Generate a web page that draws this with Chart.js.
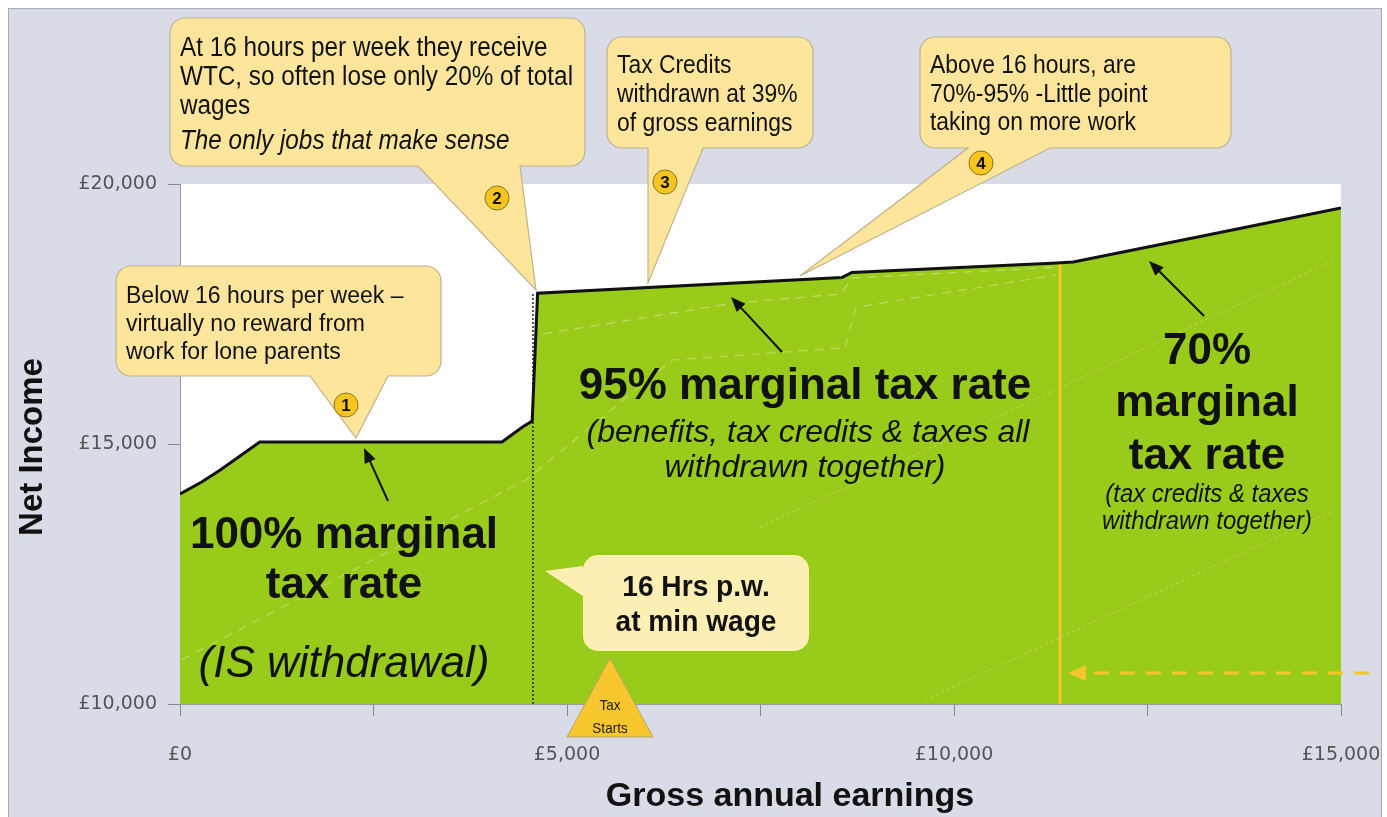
<!DOCTYPE html>
<html>
<head>
<meta charset="utf-8">
<title>Net income against gross annual earnings</title>
<script src="https://cdn.jsdelivr.net/npm/chart.js@4.4.1/dist/chart.umd.min.js"></script>
<style>
  html, body { margin: 0; padding: 0; background: #fff; }
  #wrap { width: 1387px; height: 817px; }
</style>
</head>
<body>
<div id="wrap"><canvas id="chart" width="1387" height="817"></canvas></div>
<script>
// net income line (gross earnings -> net income)
const earnings  = [0, 280, 520, 1030, 4160, 4430, 4550, 4620, 8550, 8680, 11330, 11540, 13180, 15000];
const netIncome = [14040, 14270, 14500, 15040, 15040, 15330, 15440, 17900, 18200, 18300, 18480, 18500, 18990, 19540];

// faint dashed comparison lines inside the area
const altEarningsA = [4690, 7160, 8540, 8680, 11320];
const altIncomeA   = [17115, 17710, 17885, 18190, 18400];
const altEarningsB = [20, 4470, 6360, 8590, 8730, 11320];
const altIncomeB   = [10850, 14310, 16615, 16850, 17630, 18250];
const diagEarningsC = [7490, 14920];
const diagIncomeC   = [13400, 18540];
const diagEarningsD = [9630, 14920];
const diagIncomeD   = [10080, 13730];

// markers
const minWageEarnings = 4560;   // 16 hrs p.w. at min wage
const taperEarnings = 11370;    // start of 70% region
const taperTop = 18480;

const xTicks = [0, 5000, 10000, 15000];
const yTicks = [10000, 15000, 20000];

const pts = (xs, ys) => xs.map((x, i) => ({ x: x, y: ys[i] }));
const FONT = "'Liberation Sans', Arial, sans-serif";

function label(ctx, str, x, y, font, color, align, sx) {
    ctx.save();
    ctx.font = font;
    ctx.fillStyle = color || '#111';
    ctx.textAlign = align || 'center';
    ctx.textBaseline = 'middle';
    ctx.translate(x, y);
    ctx.scale(sx || 1, 1);
    ctx.fillText(str, 0, 0);
    ctx.restore();
}

function arrow(ctx, x1, y1, x2, y2, color, width, head) {
    const a = Math.atan2(y2 - y1, x2 - x1);
    ctx.strokeStyle = color;
    ctx.fillStyle = color;
    ctx.lineWidth = width;
    ctx.beginPath();
    ctx.moveTo(x1, y1);
    ctx.lineTo(x2 - Math.cos(a) * head * 0.8, y2 - Math.sin(a) * head * 0.8);
    ctx.stroke();
    ctx.beginPath();
    ctx.moveTo(x2, y2);
    ctx.lineTo(x2 - head * Math.cos(a - 0.38), y2 - head * Math.sin(a - 0.38));
    ctx.lineTo(x2 - head * Math.cos(a + 0.38), y2 - head * Math.sin(a + 0.38));
    ctx.closePath();
    ctx.fill();
}

// rounded box with a pointer, side 'bottom' or 'left'
function bubble(ctx, b) {
    const { x, y, w, h } = b, r = 15, p = b.ptr;
    ctx.beginPath();
    ctx.moveTo(x + r, y);
    ctx.lineTo(x + w - r, y);
    ctx.arcTo(x + w, y, x + w, y + r, r);
    ctx.lineTo(x + w, y + h - r);
    ctx.arcTo(x + w, y + h, x + w - r, y + h, r);
    if (p && p.side === 'bottom') {
        ctx.lineTo(p.b, y + h);
        ctx.lineTo(p.tx, p.ty);
        ctx.lineTo(p.a, y + h);
    }
    ctx.lineTo(x + r, y + h);
    ctx.arcTo(x, y + h, x, y + h - r, r);
    if (p && p.side === 'left') {
        ctx.lineTo(x, p.b);
        ctx.lineTo(p.tx, p.ty);
        ctx.lineTo(x, p.a);
    }
    ctx.lineTo(x, y + r);
    ctx.arcTo(x, y, x + r, y, r);
    ctx.closePath();
    ctx.fillStyle = b.fill || '#fde69c';
    ctx.fill();
    if (b.stroke) {
        ctx.strokeStyle = b.stroke;
        ctx.lineWidth = 1.2;
        ctx.stroke();
    }
}

function badge(ctx, n, x, y) {
    ctx.beginPath();
    ctx.arc(x, y, 12, 0, Math.PI * 2);
    ctx.fillStyle = '#f8c520';
    ctx.fill();
    ctx.strokeStyle = '#8a7420';
    ctx.lineWidth = 1;
    ctx.stroke();
    label(ctx, String(n), x, y + 1, 'bold 17px ' + FONT, '#111');
}

const callouts = [
    { x: 116, y: 266, w: 325, h: 110, ptr: { side: 'bottom', a: 310, b: 388, tx: 356, ty: 438 },
      size: 23, sx: 1, badge: [1, 346, 405], lines: [
        ['Below 16 hours per week \u2013', 297], ['virtually no reward from', 325], ['work for lone parents', 353]] },
    { x: 170, y: 18, w: 415, h: 148, ptr: { side: 'bottom', a: 418, b: 520, tx: 536, ty: 290 },
      size: 27, sx: 0.9, badge: [2, 497, 198], lines: [
        ['At 16 hours per week they receive', 49], ['WTC, so often lose only 20% of total', 78],
        ['wages', 107], ['The only jobs that make sense', 141, true]] },
    { x: 607, y: 37, w: 206, h: 111, ptr: { side: 'bottom', a: 648, b: 703, tx: 648, ty: 283 },
      size: 26, sx: 0.88, badge: [3, 665, 182], lines: [
        ['Tax Credits', 66], ['withdrawn at 39%', 95], ['of gross earnings', 124]] },
    { x: 920, y: 37, w: 311, h: 111, ptr: { side: 'bottom', a: 968, b: 1050, tx: 800, ty: 276 },
      size: 26, sx: 0.88, badge: [4, 981, 163], lines: [
        ['Above 16 hours, are', 66], ['70%-95% -Little point', 95], ['taking on more work', 123]] }
];

const decor = {
    id: 'decor',
    beforeDraw(chart) {
        const ctx = chart.ctx, a = chart.chartArea;
        ctx.save();
        ctx.fillStyle = '#ffffff';
        ctx.fillRect(0, 0, chart.width, chart.height);
        ctx.fillStyle = '#d9dce6';
        ctx.fillRect(8, 8, 1374, 820);
        ctx.strokeStyle = '#a8acb6';
        ctx.lineWidth = 1;
        ctx.strokeRect(8.5, 8.5, 1373, 820);
        ctx.fillStyle = '#ffffff';
        ctx.fillRect(a.left, a.top, a.right - a.left, a.bottom - a.top);
        ctx.restore();
    },
    afterDraw(chart) {
        const ctx = chart.ctx;
        ctx.save();

        // region labels
        label(ctx, '100% marginal', 344, 536, 'bold 44px ' + FONT);
        label(ctx, 'tax rate', 344, 586, 'bold 44px ' + FONT);
        label(ctx, '(IS withdrawal)', 344, 665, 'italic 44px ' + FONT);
        label(ctx, '95% marginal tax rate', 805, 387, 'bold 44px ' + FONT);
        label(ctx, '(benefits, tax credits & taxes all', 808, 433, 'italic 32px ' + FONT);
        label(ctx, 'withdrawn together)', 805, 468, 'italic 32px ' + FONT);
        label(ctx, '70%', 1207, 352, 'bold 44px ' + FONT);
        label(ctx, 'marginal', 1207, 404, 'bold 44px ' + FONT);
        label(ctx, 'tax rate', 1207, 457, 'bold 44px ' + FONT);
        label(ctx, '(tax credits & taxes', 1207, 495, 'italic 26px ' + FONT, '#111', 'center', 0.92);
        label(ctx, 'withdrawn together)', 1207, 522, 'italic 26px ' + FONT, '#111', 'center', 0.92);

        // pointer arrows to the line
        arrow(ctx, 388, 501, 364, 448, '#111', 2, 16);
        arrow(ctx, 782, 352, 731, 297, '#111', 2, 16);
        arrow(ctx, 1204, 316, 1149, 261, '#111', 2, 16);

        // dashed orange arrow
        ctx.setLineDash([15, 11]);
        ctx.strokeStyle = '#f7c62b';
        ctx.lineWidth = 3;
        ctx.beginPath();
        ctx.moveTo(1369, 673);
        ctx.lineTo(1084, 673);
        ctx.stroke();
        ctx.setLineDash([]);
        ctx.fillStyle = '#f7c62b';
        ctx.beginPath();
        ctx.moveTo(1068, 673);
        ctx.lineTo(1086, 665);
        ctx.lineTo(1086, 681);
        ctx.closePath();
        ctx.fill();

        // speech bubbles
        callouts.forEach(c => {
            bubble(ctx, { x: c.x, y: c.y, w: c.w, h: c.h, ptr: c.ptr, stroke: '#bfb28c' });
            c.lines.forEach(l => {
                label(ctx, l[0], c.x + 10, l[1], (l[2] ? 'italic ' : '') + c.size + 'px ' + FONT,
                      '#111', 'left', c.sx);
            });
            badge(ctx, c.badge[0], c.badge[1], c.badge[2]);
        });

        // 16 hrs box
        bubble(ctx, { x: 583, y: 555, w: 226, h: 96, fill: '#fdeeb3',
            ptr: { side: 'left', a: 566, b: 596, tx: 545, ty: 571 } });
        label(ctx, '16 Hrs p.w.', 696, 588, 'bold 29px ' + FONT, '#111', 'center', 0.97);
        label(ctx, 'at min wage', 696, 623, 'bold 29px ' + FONT, '#111', 'center', 0.97);

        // tax starts triangle
        ctx.beginPath();
        ctx.moveTo(610, 658);
        ctx.lineTo(653, 737);
        ctx.lineTo(567, 737);
        ctx.closePath();
        ctx.fillStyle = '#f8c72e';
        ctx.fill();
        ctx.strokeStyle = '#b9a46a';
        ctx.lineWidth = 1;
        ctx.stroke();
        label(ctx, 'Tax', 610, 706, '15px ' + FONT, '#222', 'center', 0.9);
        label(ctx, 'Starts', 610, 729, '15px ' + FONT, '#222', 'center', 0.9);

        // axis titles
        label(ctx, 'Gross annual earnings', 790, 797, 'bold 34px ' + FONT);
        ctx.translate(33, 447);
        ctx.rotate(-Math.PI / 2);
        label(ctx, 'Net Income', 0, 0, 'bold 33px ' + FONT);

        ctx.restore();
    }
};

const faint = (data, color, dash, width) => ({
    data: data, borderColor: color, borderDash: dash, borderWidth: width,
    fill: false, pointRadius: 0, tension: 0
});

new Chart(document.getElementById('chart'), {
    type: 'line',
    data: {
        datasets: [
            {
                label: 'Net income',
                data: pts(earnings, netIncome),
                borderColor: '#111',
                borderWidth: 3,
                backgroundColor: '#99cc1a',
                fill: 'start',
                pointRadius: 0,
                tension: 0
            },
            {
                label: '16 hrs',
                data: pts([minWageEarnings, minWageEarnings], [10000, 17900]),
                borderColor: '#222', borderWidth: 1.5, borderDash: [2, 2],
                fill: false, pointRadius: 0
            },
            {
                label: '70% start',
                data: pts([taperEarnings, taperEarnings], [10000, taperTop]),
                borderColor: '#f7c62b', borderWidth: 3,
                fill: false, pointRadius: 0
            },
            faint(pts(altEarningsA, altIncomeA), 'rgba(255,255,255,0.35)', [9, 7], 1.2),
            faint(pts(altEarningsB, altIncomeB), 'rgba(255,255,255,0.3)', [9, 7], 1.2),
            faint(pts(diagEarningsC, diagIncomeC), 'rgba(255,255,255,0.25)', [3, 3], 1),
            faint(pts(diagEarningsD, diagIncomeD), 'rgba(255,255,255,0.25)', [3, 3], 1)
        ]
    },
    options: {
        responsive: false,
        animation: false,
        devicePixelRatio: 1,
        layout: { padding: { top: 184, right: 46, left: 0, bottom: 0 } },
        plugins: {
            legend: { display: false },
            tooltip: { enabled: false },
            filler: { propagate: false, drawTime: 'beforeDatasetsDraw' }
        },
        scales: {
            x: {
                type: 'linear',
                min: 0,
                max: 15000,
                afterFit: s => {
                    s.height = 113;
                    s.paddingLeft = 0;
                    s.paddingRight = 0;
                },
                ticks: {
                    stepSize: 2500,
                    autoSkip: false,
                    maxRotation: 0,
                    padding: 28,
                    color: '#555',
                    font: { family: "'DejaVu Sans', sans-serif", size: 19 },
                    callback: v => xTicks.includes(v) ? '£' + v.toLocaleString('en-GB') : ''
                },
                grid: { drawOnChartArea: false, tickLength: 12, color: '#888' },
                border: { color: '#9a9a9a' }
            },
            y: {
                min: 10000,
                max: 20000,
                afterFit: s => {
                    s.width = 180;
                    s.paddingTop = 0;
                    s.paddingBottom = 0;
                },
                ticks: {
                    stepSize: 5000,
                    padding: 11,
                    color: '#555',
                    font: { family: "'DejaVu Sans', sans-serif", size: 19 },
                    callback: v => yTicks.includes(v) ? '£' + v.toLocaleString('en-GB') : ''
                },
                grid: { drawOnChartArea: false, tickLength: 12, color: '#888' },
                border: { color: '#9a9a9a' }
            }
        }
    },
    plugins: [decor]
});
</script>
</body>
</html>
